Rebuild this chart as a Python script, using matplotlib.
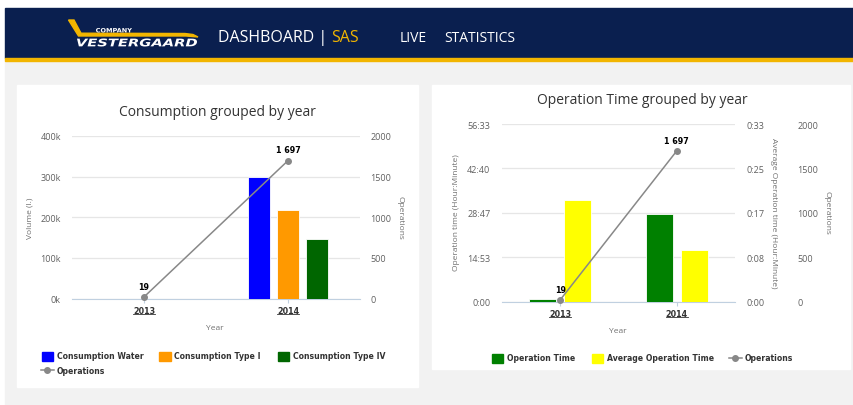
import matplotlib.pyplot as plt
import matplotlib.patches as mpatches
from matplotlib.lines import Line2D
from matplotlib.textpath import TextPath
from matplotlib.font_manager import FontProperties
from matplotlib.transforms import Affine2D, IdentityTransform
import numpy as np

W, H = 854, 406

# data
years = ["2013", "2014"]
consumption_water = [0, 298000]
consumption_type_i = [0, 218000]
consumption_type_iv = [0, 147000]
operations = [19, 1697]

operation_time_min = [45, 1671]  # total operation time (minutes)
avg_operation_time_min = [18.9, 9.5]  # average per operation (minutes)
op_time_max = 3393  # 56:33
avg_time_max = 33  # 0:33
op_time_ticks = ["0:00", "14:53", "28:47", "42:40", "56:33"]
avg_time_ticks = ["0:00", "0:08", "0:17", "0:25", "0:33"]
ops_ticks = [0, 500, 1000, 1500, 2000]
volume_ticks = [0, 100000, 200000, 300000, 400000]

NAVY = "#0a1f4f"
GOLD = "#f2b500"
TICK = "#606060"
AXTITLE = "#707070"
GRID = "#e6e6e6"
AXLINE = "#c0d0e0"
LINE = "#888888"
UI = "Open Sans"
BOLD = "DejaVu Sans"


def rect(x0, y0, x1, y1):
    """pixel box (top-left origin) -> figure fraction [l, b, w, h]"""
    return [x0 / W, 1 - y1 / H, (x1 - x0) / W, (y1 - y0) / H]


def fx(x):
    return x / W


def fy(y):
    return 1 - y / H


def base_style(ax):
    for s in ax.spines.values():
        s.set_visible(False)
    ax.patch.set_alpha(0)
    ax.tick_params(axis="y", length=0, colors=TICK, labelsize=6.5)


def fmt_ops(v):
    return f"{v:,}".replace(",", " ")


def add_box(fig, x0, y0, x1, y1, color, z=0):
    fig.patches.append(mpatches.Rectangle((fx(x0), fy(y1)), (x1 - x0) / W, (y1 - y0) / H,
                                          transform=fig.transFigure, color=color, zorder=z))


def text_in_box(fig, s, x0, y0, x1, y1, prop, color):
    # stretch a text outline to fill a pixel box (used for the logo lettering)
    tp = TextPath((0, 0), s, size=10, prop=prop)
    ext = tp.get_extents()
    sx = (x1 - x0) / ext.width
    sy = (y1 - y0) / ext.height
    tr = Affine2D().translate(-ext.x0, -ext.y0).scale(sx, sy).translate(x0, H - y1)
    fig.patches.append(mpatches.PathPatch(tr.transform_path(tp), color=color, lw=0,
                                          transform=IdentityTransform(), zorder=3))


fig = plt.figure(figsize=(W / 100, H / 100), dpi=100, facecolor="white")

# page background, header bar and panels
add_box(fig, 5, 61, W, H, "#f2f2f2")
add_box(fig, 5, 9, W, 59, NAVY)
add_box(fig, 5, 59, W, 61.5, GOLD)
add_box(fig, 17, 86, 418, 388, "white", 1)
add_box(fig, 432, 86, 850, 370, "white", 1)

# logo
swoosh = [(68.5, 21), (74, 21), (81, 34.2), (185, 34.5), (193, 35.5), (198, 38),
          (186, 37), (78.5, 37)]
fig.patches.append(mpatches.Polygon([(fx(x), fy(y)) for x, y in swoosh], closed=True,
                                    transform=fig.transFigure, color=GOLD))
text_in_box(fig, "COMPANY", 96, 29, 132, 33.5,
            FontProperties(family=BOLD, weight="bold"), "white")
text_in_box(fig, "VESTERGAARD", 77, 39.5, 197, 47.5,
            FontProperties(family=BOLD, weight="bold", style="italic"), "white")

# header navigation
t = fig.text(fx(218), fy(38), "DASHBOARD | ", color="white", fontsize=11.5, family=UI,
             va="center")
fig.canvas.draw()
bb = t.get_window_extent()
fig.text(bb.x1 / W, fy(38), "SAS", color=GOLD, fontsize=11.5, family=UI, va="center")
fig.text(fx(400), fy(38), "LIVE", color="white", fontsize=10, family=UI, va="center")
fig.text(fx(444), fy(38), "STATISTICS", color="white", fontsize=10, family=UI, va="center")

x = np.arange(len(years))

# ---------------- Consumption grouped by year ----------------
ax1 = fig.add_axes(rect(72, 137, 360, 299.5))
ax1.set_zorder(2)
base_style(ax1)
bw = 0.155
for off, vals, col in [(-0.2, consumption_water, "#0000ff"),
                       (0.0, consumption_type_i, "#ff9900"),
                       (0.2, consumption_type_iv, "#006600")]:
    ax1.bar(x + off, vals, bw, color=col, edgecolor="white", linewidth=0.6, zorder=3)
ax1.set_xlim(-0.5, 1.5)
ax1.set_ylim(0, volume_ticks[-1])
ax1.set_yticks(volume_ticks, [f"{v // 1000}k" for v in volume_ticks], family=UI)
ax1.tick_params(axis="y", pad=8)
ax1.yaxis.grid(True, color=GRID, lw=0.9)
ax1.set_axisbelow(True)
ax1.spines["bottom"].set_visible(True)
ax1.spines["bottom"].set_color(AXLINE)
ax1.set_xticks(x, years)
ax1.tick_params(axis="x", length=3, color=AXLINE, pad=2.5, labelsize=5.8, labelcolor="#333333")
for lab in ax1.get_xticklabels():
    lab.set_fontweight("bold")
    lab.set_family(BOLD)

ax1b = ax1.twinx()
base_style(ax1b)
ax1b.set_ylim(0, ops_ticks[-1])
ax1b.set_yticks(ops_ticks, [str(v) for v in ops_ticks], family=UI)
ax1b.tick_params(axis="y", pad=7.5)
ax1b.plot(x, operations, color=LINE, lw=1.1, marker="o", markersize=4, zorder=5,
          clip_on=False)
for xi, v in zip(x, operations):
    ax1b.annotate(fmt_ops(v), (xi, v), xytext=(0, 4.5), textcoords="offset points",
                  ha="center", va="bottom", fontsize=5.8, fontweight="bold", family=BOLD)

fig.text(fx(217), fy(113), "Consumption grouped by year", ha="center", va="center",
         fontsize=10, color="#333333", family=UI, zorder=5)
fig.text(fx(30), fy(218), "Volume (l.)", rotation=90, ha="center", va="center",
         fontsize=6, color=AXTITLE, family=UI, zorder=5)
fig.text(fx(400), fy(218), "Operations", rotation=270, ha="center", va="center",
         fontsize=6, color=AXTITLE, family=UI, zorder=5)
fig.text(fx(215), fy(329), "Year", ha="center", va="center", fontsize=6, color=AXTITLE,
         family=UI, zorder=5)


# legends
def legend_square(px, py, color, label):
    fig.patches.append(mpatches.Rectangle((fx(px), fy(py + 4.5)), 11.5 / W, 9 / H,
                                          transform=fig.transFigure, color=color, zorder=5))
    fig.text(fx(px + 15), fy(py), label, va="center", fontsize=5.6, fontweight="bold",
             family=BOLD, color="#333333", zorder=5)


def legend_line(px, py, label):
    fig.lines.append(Line2D([fx(px), fx(px + 13)], [fy(py), fy(py)], color=LINE, lw=1.1,
                            transform=fig.transFigure, zorder=5))
    fig.lines.append(Line2D([fx(px + 6.5)], [fy(py)], color=LINE, marker="o", markersize=4,
                            transform=fig.transFigure, zorder=5))
    fig.text(fx(px + 16), fy(py), label, va="center", fontsize=5.6, fontweight="bold",
             family=BOLD, color="#333333", zorder=5)


legend_square(42, 357, "#0000ff", "Consumption Water")
legend_square(159, 357, "#ff9900", "Consumption Type I")
legend_square(278, 357, "#006600", "Consumption Type IV")
legend_line(41, 371, "Operations")

# ---------------- Operation Time grouped by year ----------------
ax2 = fig.add_axes(rect(502, 125, 735, 302.5))
ax2.set_zorder(2)
base_style(ax2)
bw2 = 0.232
ax2.bar(x - 0.15, operation_time_min, bw2, color="#008000", edgecolor="white",
        linewidth=0.6, zorder=3)
ax2.set_xlim(-0.5, 1.5)
ax2.set_ylim(0, op_time_max)
ax2.set_yticks(np.linspace(0, op_time_max, 5), op_time_ticks, family=UI)
ax2.tick_params(axis="y", pad=8.5)
ax2.yaxis.grid(True, color=GRID, lw=0.9)
ax2.set_axisbelow(True)
ax2.spines["bottom"].set_visible(True)
ax2.spines["bottom"].set_color(AXLINE)
ax2.set_xticks(x, years)
ax2.tick_params(axis="x", length=3, color=AXLINE, pad=2.5, labelsize=5.8, labelcolor="#333333")
for lab in ax2.get_xticklabels():
    lab.set_fontweight("bold")
    lab.set_family(BOLD)

ax2b = ax2.twinx()
base_style(ax2b)
ax2b.bar(x + 0.15, avg_operation_time_min, bw2, color="#ffff00", edgecolor="white",
         linewidth=0.6, zorder=3)
ax2b.set_ylim(0, avg_time_max)
ax2b.set_yticks(np.linspace(0, avg_time_max, 5), avg_time_ticks, family=UI)
ax2b.tick_params(axis="y", pad=8)

ax2c = ax2.twinx()
base_style(ax2c)
ax2c.spines["right"].set_position(("outward", 51 * 0.72))
ax2c.set_ylim(0, ops_ticks[-1])
ax2c.set_yticks(ops_ticks, [str(v) for v in ops_ticks], family=UI)
ax2c.tick_params(axis="y", pad=8)
ax2c.plot(x, operations, color=LINE, lw=1.1, marker="o", markersize=4, zorder=5,
          clip_on=False)
for xi, v in zip(x, operations):
    ax2c.annotate(fmt_ops(v), (xi, v), xytext=(0, 4.5), textcoords="offset points",
                  ha="center", va="bottom", fontsize=5.8, fontweight="bold", family=BOLD)

fig.text(fx(642), fy(100), "Operation Time grouped by year", ha="center", va="center",
         fontsize=10, color="#333333", family=UI, zorder=5)
fig.text(fx(457), fy(213), "Operation time (Hour:Minute)", rotation=90, ha="center",
         va="center", fontsize=6, color=AXTITLE, family=UI, zorder=5)
fig.text(fx(774), fy(213), "Average Operation time (Hour:Minute)", rotation=270,
         ha="center", va="center", fontsize=6, color=AXTITLE, family=UI, zorder=5)
fig.text(fx(827), fy(213), "Operations", rotation=270, ha="center", va="center",
         fontsize=6, color=AXTITLE, family=UI, zorder=5)
fig.text(fx(618), fy(332), "Year", ha="center", va="center", fontsize=6, color=AXTITLE,
         family=UI, zorder=5)

legend_square(492, 359, "#008000", "Operation Time")
legend_square(592, 359, "#ffff00", "Average Operation Time")
legend_line(729, 359, "Operations")

# underline the category labels
fig.canvas.draw()
for ax in (ax1, ax2):
    for lab in ax.get_xticklabels():
        b = lab.get_window_extent()
        yl = b.y0 + 1.2
        fig.lines.append(Line2D([b.x0 / W, b.x1 / W], [yl / H, yl / H], color="#333333",
                                lw=0.6, transform=fig.transFigure, zorder=5))

fig.savefig("out.png", dpi=100, facecolor=fig.get_facecolor())
